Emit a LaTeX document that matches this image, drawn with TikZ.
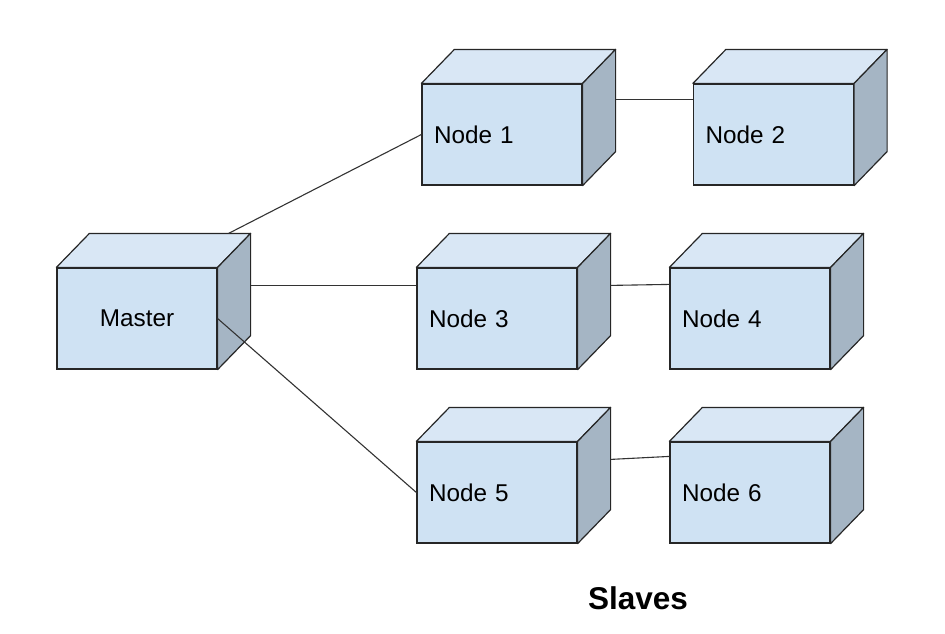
\documentclass[tikz,border=0pt]{standalone}
\usepackage{fontspec}
\setmainfont{Liberation Sans}
\usetikzlibrary{calc}
\definecolor{box-front}{HTML}{CFE2F3}
\definecolor{box-top}{HTML}{D9E7F5}
\definecolor{box-side}{HTML}{A5B5C4}
\definecolor{wire}{HTML}{333333}

\begin{document}
\begin{tikzpicture}[x=1pt, y=-1pt,
    cube/.style={draw=black!85, line width=1.2pt, fill=box-front, minimum height=101pt,
      text width=136pt, inner xsep=12pt, inner ysep=0pt, align=left,
      font=\fontsize{24.3}{28}\selectfont},
    wire/.style={draw=wire, line width=1.1pt}]
      \useasboundingbox (0,0) rectangle (945,633);

      \node[cube, align=center] (master) at (137,318.5) {Master};
      \node[cube] (node1) at (502,134.5) {Node 1};
      \node[cube] (node2) at (773.5,134.5) {Node 2};
      \node[cube] (node3) at (497,318.5) {Node 3};
      \node[cube] (node4) at (750,318.5) {Node 4};
      \node[cube] (node5) at (497,492.5) {Node 5};
      \node[cube] (node6) at (750,492.5) {Node 6};

      \foreach \n in {master,node1,node2,node3,node4,node5,node6} {
        \filldraw[fill=box-top, draw=black!85, line width=1.2pt, line join=round]
          (\n.north west) -- ++(33,-34) -- ($(\n.north east)+(33,-34)$) -- (\n.north east) -- cycle;
        \filldraw[fill=box-side, draw=black!85, line width=1.2pt, line join=round]
          (\n.north east) -- ++(33,-34) -- ($(\n.south east)+(33,-34)$) -- (\n.south east) -- cycle;
      }

      \draw[wire] ($(master.north east)+(11,-34)$) -- (node1.west);
      \draw[wire] ($(master.north east)+(33,18)$) -- ($(node3.north west)+(0,18)$);
      \draw[wire] (master.east) -- (node5.west);
      \draw[wire] ($(node1.north east)+(33,16)$) -- ($(node2.north west)+(0,16)$);
      \draw[wire] ($(node3.north east)+(33,18)$) -- ($(node4.north west)+(0,17)$);
      \draw[wire] ($(node5.north east)+(33,18)$) -- ($(node6.north west)+(0,15)$);

      \node[font=\fontsize{31.5}{36}\selectfont\bfseries, anchor=base] (slaves) at (638,609) {Slaves};
\end{tikzpicture}
\end{document}
